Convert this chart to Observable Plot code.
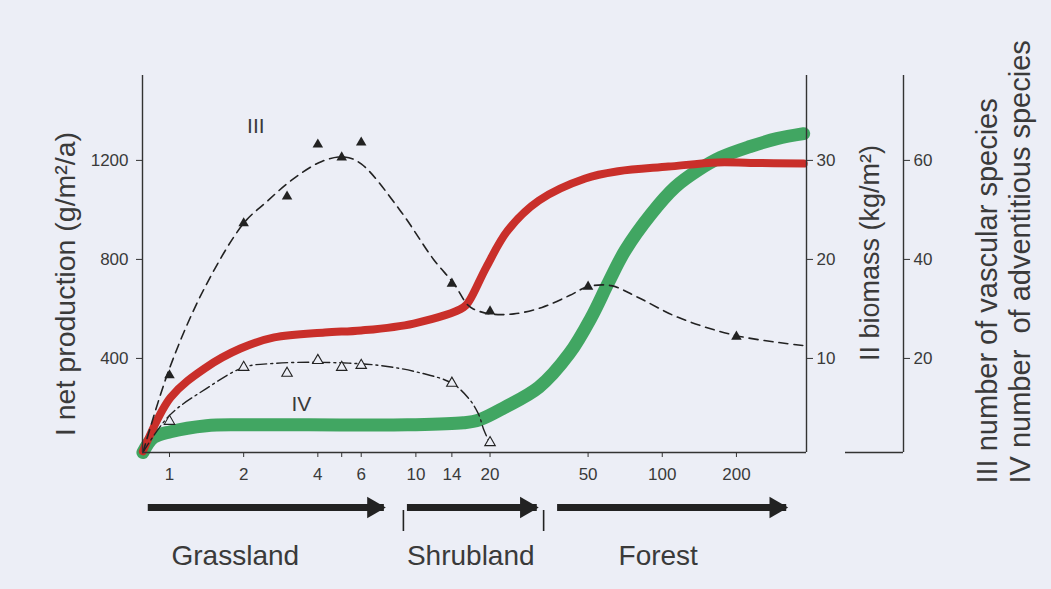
<!DOCTYPE html>
<html>
<head>
<meta charset="utf-8">
<script src="https://cdn.jsdelivr.net/npm/d3@7"></script>
<script src="https://cdn.jsdelivr.net/npm/@observablehq/plot@0.6"></script>
<style>
  html, body { margin: 0; padding: 0; background: #eceef6; }
  svg { display: block; }
</style>
</head>
<body>
<script>
// ---- data ----
// x: years since abandonment (log axis)
const xTicks = [1, 2, 4, 5, 6, 10, 14, 20, 50, 100, 200];
const xTickLabels = ["1", "2", "4", "", "6", "10", "14", "20", "50", "100", "200"];
const productionTicks = [400, 800, 1200];   // I net production (g/m²/a)
const biomassTicks = [10, 20, 30];          // II biomass (kg/m²)
const speciesTicks = [20, 40, 60];          // III / IV number of species

// I net production (red)
const productionYears  = [0.78, 1.01, 1.41, 1.94, 2.66, 4.27, 6, 9.8, 15.6, 16.5, 19.3, 23.6, 31.6, 48.7, 66.2, 106, 168, 228, 375];
const productionValues = [25, 242, 364, 440, 485, 505, 513, 541, 606, 634, 768, 917, 1038, 1127, 1156, 1175, 1192, 1190, 1187];

// II biomass (green)
const biomassYears  = [0.78, 0.86, 1.01, 1.41, 1.94, 3.67, 9.24, 15.6, 18.1, 22.9, 31.6, 42, 51.4, 60.3, 70.7, 90.2, 112.8, 139.5, 172.5, 227.5, 292, 375];
const biomassValues = [0.5, 2.0, 2.6, 3.2, 3.3, 3.3, 3.3, 3.5, 3.8, 5.05, 7.1, 10.5, 14.1, 17.6, 20.9, 24.6, 27.3, 29.0, 30.3, 31.4, 32.2, 32.7];

// III number of vascular species: fitted curve and observations
const vascularCurveYears  = [0.78, 1, 1.38, 2, 2.46, 3.13, 4.15, 5.12, 6, 8.6, 11.8, 14.3, 16.1, 17.1, 20, 25, 32.5, 42, 50, 62, 79.9, 115.9, 200, 375];
const vascularCurveValues = [1, 18, 34, 47.3, 51.5, 56, 59.8, 60.7, 59.3, 50, 40, 35, 31, 30, 29, 29, 30.3, 32.7, 34.5, 34.7, 32.3, 28.3, 24.6, 22.6];
const vascularObsYears  = [1, 2, 3, 4, 5, 6, 14, 20, 50, 200];
const vascularObsValues = [16.6, 47.3, 52.7, 63.2, 60.6, 63.6, 35.1, 29.5, 34.5, 24.4];

// IV number of adventitious species: fitted curve and observations
const adventCurveYears  = [0.78, 1, 1.41, 2, 2.66, 4.1, 7.1, 10.6, 14, 16.4, 17.9, 18.9, 20];
const adventCurveValues = [1, 8.5, 13.9, 18.2, 19, 19.2, 18.6, 17, 15, 11.9, 8.9, 5.5, 2.8];
const adventObsYears  = [1, 2, 3, 4, 5, 6, 14, 20];
const adventObsValues = [7.3, 18.2, 17, 19.6, 18.2, 18.6, 15, 3];

// curve labels (year, species)
const curveLabelNames = ["III", "IV"];
const curveLabelYears = [2.24, 3.43];
const curveLabelValues = [66.9, 10.7];

// successional stages (years)
const stageNames = ["Grassland", "Shrubland", "Forest"];
const stageStart = [0.82, 9.24, 37.6];
const stageEnd   = [7.45, 31.1, 320];
const stageLabelYear = [1.85, 16.7, 96.3];
const stageBoundaries = [8.9, 33];

// ---- build tables ----
const zip = (xs, ys, k) => xs.map((x, i) => ({year: x, [k]: ys[i]}));
const production = zip(productionYears, productionValues, "v");
const biomass = zip(biomassYears, biomassValues, "v");
const vascCurve = zip(vascularCurveYears, vascularCurveValues, "n");
const vascObs = zip(vascularObsYears, vascularObsValues, "n");
const advCurve = zip(adventCurveYears, adventCurveValues, "n");
const advObs = zip(adventObsYears, adventObsValues, "n");
const curveLabels = curveLabelNames.map((name, i) => ({name, year: curveLabelYears[i], n: curveLabelValues[i]}));
const stages = stageNames.map((name, i) => ({name, start: stageStart[i], end: stageEnd[i], label: stageLabelYear[i]}));
const xTickTable = xTicks.map((t, i) => ({t, label: xTickLabels[i]}));

// common y scale in production units: 1 kg/m² biomass ≙ 40, 1 species ≙ 20
const BIO = 40, SPP = 20;
const X0 = 0.777, X1 = 385, Y0 = 20, Y1 = 1543;

const red = "#c92f2a", green = "#38a15a", ink = "#222", bg = "#eceef6", axisInk = "#333";
const font = "'Liberation Sans', Arial, Helvetica, sans-serif";

const chart = Plot.plot({
  width: 1051,
  height: 589,
  marginLeft: 142,
  marginRight: 245,
  marginTop: 75,
  marginBottom: 137,
  style: {background: "transparent", fontFamily: font, color: "#3a3a3a", overflow: "visible"},
  x: {type: "log", domain: [X0, X1]},
  y: {domain: [Y0, Y1]},
  marks: [
    // curves
    Plot.line(biomass, {x: "year", y: d => d.v * BIO, stroke: green, strokeWidth: 13, curve: "catmull-rom", strokeLinecap: "round", strokeOpacity: 0.95}),
    Plot.line(production, {x: "year", y: "v", stroke: red, strokeWidth: 8, curve: "catmull-rom", strokeLinecap: "round"}),
    Plot.line(vascCurve, {x: "year", y: d => d.n * SPP, stroke: ink, strokeWidth: 1.6, strokeDasharray: "9,6", curve: "catmull-rom"}),
    Plot.line(advCurve, {x: "year", y: d => d.n * SPP, stroke: ink, strokeWidth: 1.4, strokeDasharray: "11,4,2,4", curve: "catmull-rom"}),
    Plot.dot(vascObs, {x: "year", y: d => d.n * SPP, symbol: "triangle", r: 3.9, fill: ink}),
    Plot.dot(advObs, {x: "year", y: d => d.n * SPP, symbol: "triangle", r: 3.9, fill: bg, stroke: ink, strokeWidth: 1.1}),
    Plot.text(curveLabels, {x: "year", y: d => d.n * SPP, text: "name", fontSize: 21, fill: "#3a3a3a"}),

    // frame lines
    Plot.ruleX([X0, X1], {stroke: axisInk, strokeWidth: 1.4}),
    Plot.ruleY([Y0], {stroke: axisInk, strokeWidth: 1.4}),
    Plot.ruleX([X1], {stroke: axisInk, strokeWidth: 1.4, dx: 97}),
    Plot.tickY([Y0], {stroke: axisInk, strokeWidth: 1.4, insetLeft: 606, dx: 97}),

    // axes
    Plot.axisX({ticks: xTicks, tickFormat: () => "", tickSize: 5, label: null, stroke: axisInk}),
    Plot.text(xTickTable, {x: "t", text: "label", frameAnchor: "bottom", lineAnchor: "middle", dy: 22, fontSize: 17, fill: "#3a3a3a"}),
    Plot.axisY({anchor: "left", ticks: productionTicks, tickFormat: d => String(d), tickSize: 6, tickPadding: 8, fontSize: 17, label: null, stroke: axisInk}),
    Plot.axisY({anchor: "right", ticks: biomassTicks.map(d => d * BIO), tickFormat: d => String(d / BIO), tickSize: 6, tickPadding: 4, fontSize: 17, label: null, stroke: axisInk}),
    Plot.axisY({anchor: "right", dx: 97, ticks: speciesTicks.map(d => d * SPP), tickFormat: d => String(d / SPP), tickSize: 6, tickPadding: 4, fontSize: 17, label: null, stroke: axisInk}),

    // axis titles
    Plot.text(["I net production (g/m²/a)"], {text: d => d, frameAnchor: "left", textAnchor: "middle", lineAnchor: "middle", dx: -77, dy: 20, rotate: -90, fontSize: 28.5}),
    Plot.text(["II biomass (kg/m²)"], {text: d => d, frameAnchor: "right", textAnchor: "middle", lineAnchor: "middle", dx: 64, dy: -11, rotate: -90, fontSize: 27}),
    Plot.text(["III number of vascular species"], {text: d => d, frameAnchor: "bottom-right", dx: 181, dy: 31, rotate: -90, textAnchor: "start", lineAnchor: "middle", fontSize: 29}),
    Plot.text(["IV number  of adventitious species"], {text: d => d, frameAnchor: "bottom-right", dx: 214, dy: 31, rotate: -90, textAnchor: "start", lineAnchor: "middle", fontSize: 29}),

    // stages
    Plot.ruleY(stages, {y: () => Y0, x1: "start", x2: "end", dy: 55, stroke: ink, strokeWidth: 7}),
    Plot.dot(stages, {x: "end", y: () => Y0, dy: 55, dx: -11, symbol: "triangle", rotate: 90, r: 8, fill: ink}),
    Plot.tickX(stageBoundaries, {x: d => d, insetTop: 356, dy: 79, stroke: ink, strokeWidth: 1.6}),
    Plot.text(stages, {x: "label", text: "name", frameAnchor: "bottom", lineAnchor: "middle", dy: 104, fontSize: 28})
  ]
});
document.body.appendChild(chart);
</script>
</body>
</html>
